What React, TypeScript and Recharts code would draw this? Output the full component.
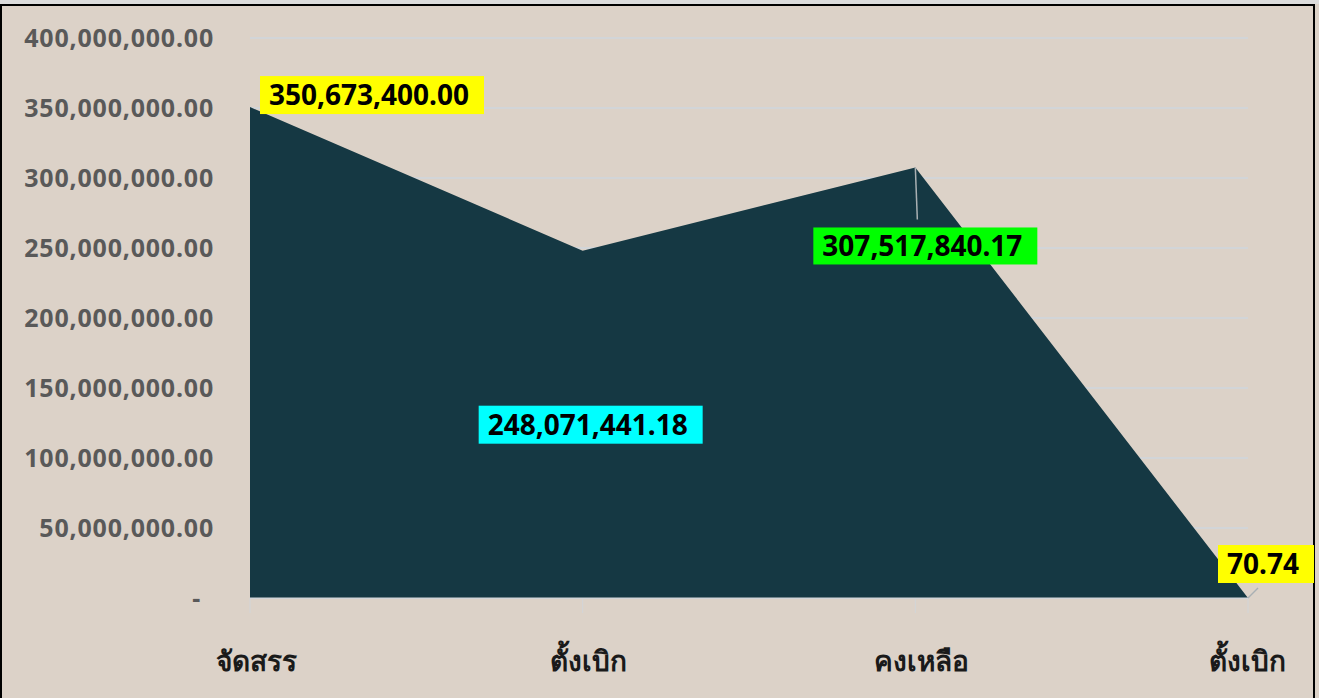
import { AreaChart, Area, XAxis, YAxis, CartesianGrid, LabelList } from 'recharts'

const categories = ['จัดสรร', 'ตั้งเบิก', 'คงเหลือ', 'ตั้งเบิก']
const amounts = [350673400.0, 248071441.18, 307517840.17, 70.74]
const yTicks = [0, 50000000, 100000000, 150000000, 200000000, 250000000, 300000000, 350000000, 400000000]
const labelColors = ['#ffff00', '#00ffff', '#00ff00', '#ffff00']

// where each value box sits relative to its point, plus an optional leader line
const labelBoxes = [
  { dx: 10, dy: -31, w: 224, h: 38, leader: null as null | [number, number] },
  { dx: -104, dy: 155, w: 224, h: 38, leader: null },
  { dx: -102, dy: 60, w: 224, h: 37, leader: [2, 52] as [number, number] },
  { dx: -30, dy: -53, w: 96, h: 38, leader: [10, -10] as [number, number] },
]

const data = categories.map((name, i) => ({ name, value: amounts[i] }))

const BG = '#dcd2c8'
const FILL = '#153843'
const GRID = '#d2d5d8'

const fmt = (v: number) =>
  v.toLocaleString('en-US', { minimumFractionDigits: 2, maximumFractionDigits: 2 })

function YTick({ x, y, payload }: any) {
  const zero = payload.value === 0
  return (
    <text
      x={zero ? x - 13 : x}
      y={y}
      dy="0.36em"
      textAnchor="end"
      fill="#595959"
      fontSize={25}
      fontWeight={700}
      letterSpacing={0.8}
      fontFamily="'Noto Sans', sans-serif"
    >
      {zero ? '-' : fmt(payload.value)}
    </text>
  )
}

function XTick({ x, y, payload, index }: any) {
  return (
    <text
      x={index === 3 ? x - 1 : x + 6}
      y={y}
      dy={56}
      textAnchor="middle"
      fill="#1a1a1a"
      fontSize={28}
      fontWeight={700}
      fontFamily="serif"
    >
      {payload.value}
    </text>
  )
}

function ValueLabel({ x, y, value, index }: any) {
  const b = labelBoxes[index]
  const bx = x + b.dx
  const by = y + b.dy
  return (
    <g>
      {b.leader && (
        <line x1={x} y1={y} x2={x + b.leader[0]} y2={y + b.leader[1]} stroke="#a9b0b3" strokeWidth={1.5} />
      )}
      <rect x={bx} y={by} width={b.w} height={b.h} fill={labelColors[index]} />
      <text
        x={bx + 9}
        y={by + b.h / 2}
        dy="0.36em"
        fill="#000"
        fontSize={28}
        fontWeight={700}
        fontFamily="'Noto Sans', sans-serif"
      >
        {fmt(value)}
      </text>
    </g>
  )
}

export default function App() {
  return (
    <div style={{ position: 'absolute', left: 0, top: 0, width: 1319, height: 698, background: BG, overflow: 'hidden' }}>
      <div style={{ position: 'absolute', left: 0, top: 0, width: 1319, height: 4, background: '#dcdcdc' }} />
      <div
        style={{
          position: 'absolute',
          left: 0,
          top: 4,
          width: 1311,
          height: 700,
          border: '2px solid #000',
          borderBottom: 'none',
        }}
      />
      <div style={{ position: 'absolute', left: 0, top: 0 }}>
        <AreaChart width={1319} height={698} data={data} margin={{ top: 38, right: 71, bottom: 40, left: 0 }}>
          <CartesianGrid stroke={GRID} strokeWidth={2} vertical={false} />
          <XAxis
            dataKey="name"
            stroke={GRID}
            tickSize={15}
            tickMargin={2}
            height={60}
            tick={<XTick />}
            interval={0}
          />
          <YAxis
            width={250}
            domain={[0, 400000000]}
            ticks={yTicks}
            axisLine={false}
            tickLine={false}
            tickSize={0}
            tickMargin={36}
            tick={<YTick />}
            interval={0}
          />
          <Area
            type="linear"
            dataKey="value"
            stroke={FILL}
            strokeWidth={0}
            fill={FILL}
            fillOpacity={1}
            isAnimationActive={false}
          >
            <LabelList dataKey="value" content={<ValueLabel />} />
          </Area>
        </AreaChart>
      </div>
    </div>
  )
}
